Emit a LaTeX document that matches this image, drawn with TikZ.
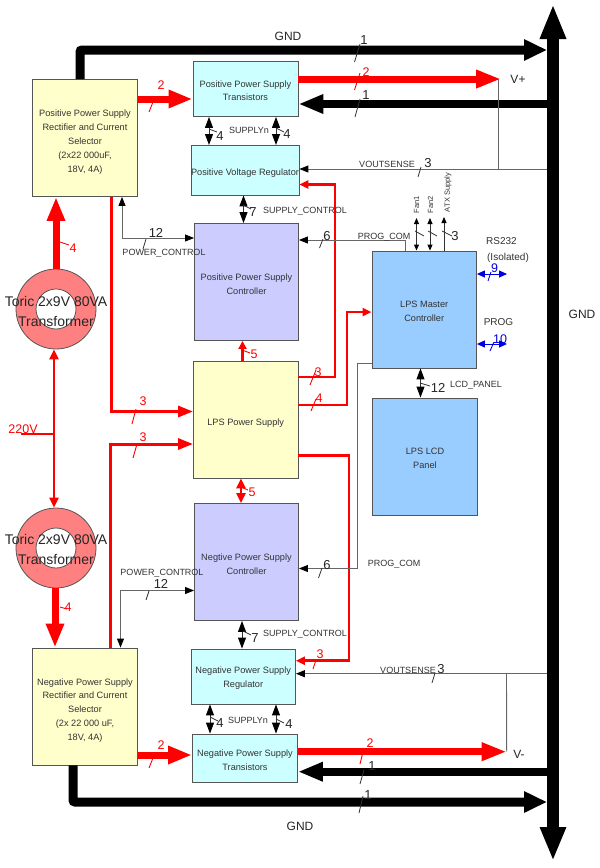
\documentclass[tikz,border=0pt]{standalone}
\usepackage{fontspec}
\setmainfont{Liberation Sans}
\usetikzlibrary{arrows.meta}
\definecolor{cyellow}{HTML}{FFFFCC}
\definecolor{ccyan}{HTML}{CCFFFF}
\definecolor{clav}{HTML}{CCCCFF}
\definecolor{cblue}{HTML}{99CCFF}
\definecolor{cpink}{HTML}{FF8080}
\definecolor{cred}{HTML}{FF0000}
\definecolor{cblu}{HTML}{0000DD}
\definecolor{cedge}{HTML}{555555}
\definecolor{ctxt}{HTML}{333333}
\definecolor{cthin}{HTML}{666666}
\newcommand\topgap[1]{\rule{0pt}{#1pt}}
\tikzset{
 x=1pt,y=-1pt,
 blockbox/.style={draw=cedge,line width=.9pt,inner sep=0pt,align=center,text=ctxt,
   font=\fontsize{9.2}{13.9}\selectfont},
 tlabel/.style={inner sep=0pt,text=ctxt,font=\fontsize{9}{10}\selectfont},
 num/.style={inner sep=0pt,text=black!85,font=\fontsize{13}{14}\selectfont},
 rnum/.style={inner sep=0pt,text=cred,font=\fontsize{12.5}{14}\selectfont},
 bnum/.style={inner sep=0pt,text=cblu,font=\fontsize{12.5}{14}\selectfont},
 biglabel/.style={inner sep=0pt,text=black!85,font=\fontsize{12}{14}\selectfont},
 torlabel/.style={inner sep=0pt,align=center,text=black!85,font=\fontsize{14}{20}\selectfont},
 fanlabel/.style={rotate=90,inner sep=0pt,text=ctxt,font=\fontsize{7.5}{8}\selectfont},
 tick/.style={draw=black!80,line width=.8pt},
 rtick/.style={draw=cred,line width=.9pt},
 btick/.style={draw=cblu,line width=.9pt},
 gndbus/.style={draw=black,line width=9pt,rounded corners=2pt,-{Triangle[length=23pt,width=20pt]}},
 gndback/.style={draw=black,line width=8pt,-{Triangle[length=25pt,width=18pt]}},
 redbus/.style={draw=cred,line width=7pt,-{Triangle[length=25pt,width=17pt]}},
 redup/.style={draw=cred,line width=7pt,-{Triangle[length=24pt,width=17pt]}},
 redline/.style={draw=cred,line width=3pt,-{Triangle[length=15pt,width=11pt]}},
 redmid/.style={draw=cred,line width=2.6pt,-{Triangle[length=9pt,width=8pt]}},
 redthin/.style={draw=cred,line width=2.5pt,-{Triangle[length=8pt,width=8pt]}},
 reddouble/.style={draw=cred,line width=2.5pt,{Triangle[length=10pt,width=9pt]}-{Triangle[length=10pt,width=9pt]}},
 thinarrow/.style={draw=cthin,line width=.9pt,-{Triangle[length=9pt,width=7pt,color=black]}},
 thinboth/.style={draw=cthin,line width=.9pt,{Triangle[length=9pt,width=7pt,color=black]}-{Triangle[length=9pt,width=7pt,color=black]}},
 thinplain/.style={draw=cthin,line width=.9pt},
 dblarrow/.style={draw=black!80,line width=1pt,{Triangle[length=11pt,width=8pt,color=black]}-{Triangle[length=11pt,width=8pt,color=black]}},
 fandbl/.style={draw=black!80,line width=.9pt,{Triangle[length=6pt,width=5pt,color=black]}-{Triangle[length=6pt,width=5pt,color=black]}},
 fanone/.style={draw=black!80,line width=.9pt,-{Triangle[length=6pt,width=5pt,color=black]}},
 bluedbl/.style={draw=cblu,line width=1pt,{Triangle[length=8pt,width=7pt]}-{Triangle[length=8pt,width=7pt]}},
 toroid/.style={circle,draw=cedge,line width=.8pt,fill=cpink,inner sep=0pt,minimum size=80pt},
 torhole/.style={circle,draw=cedge,line width=.8pt,fill=white,inner sep=0pt,minimum size=40pt},
}
\begin{document}
\begin{tikzpicture}
\useasboundingbox[fill=white] (0,0) rectangle (600,868);

% bus
\node[inner sep=0pt,minimum width=11.5pt,minimum height=788pt] (bus) at (553,433) {};
\draw[draw=black,line width=11.5pt,
  {Triangle[length=35pt,width=24pt]}-{Triangle[length=34pt,width=24pt]}] (553,4) -- (553,861);

% blocks
\node[blockbox,fill=cyellow,minimum width=105pt,minimum height=117pt] (posrect) at (85,138)
  {\topgap{14.6}Positive Power Supply\\Rectifier and Current\\Selector\\(2x22 000uF,\\18V, 4A)};
\node[blockbox,fill=ccyan,minimum width=105pt,minimum height=55.5pt] (postrans) at (245.5,88.7)
  {\topgap{10.6}Positive Power Supply\\Transistors};
\node[blockbox,fill=ccyan,minimum width=105pt,minimum height=49.5pt] (posreg) at (245,170.2)
  {\topgap{12}Positive Voltage Regulator};
\node[blockbox,fill=clav,minimum width=104pt,minimum height=117pt] (posctrl) at (246.5,282)
  {\topgap{10.6}Positive Power Supply\\Controller};
\node[blockbox,fill=cyellow,minimum width=104.5pt,minimum height=117pt] (lps) at (245.7,419.5)
  {\topgap{13}LPS Power Supply};
\node[blockbox,fill=clav,minimum width=104pt,minimum height=117pt] (negctrl) at (246.5,562)
  {\topgap{10.6}Negtive Power Supply\\Controller};
\node[blockbox,fill=ccyan,minimum width=104.5pt,minimum height=55pt] (negreg) at (243.2,676.5)
  {\topgap{10.6}Negative Power Supply\\Regulator};
\node[blockbox,fill=ccyan,minimum width=105pt,minimum height=48pt] (negtrans) at (245,758)
  {\topgap{10.6}Negative Power Supply\\Transistors};
\node[blockbox,fill=cyellow,minimum width=105pt,minimum height=117pt] (negrect) at (85,706.5)
  {\topgap{14.6}Negative Power Supply\\Rectifier and Current\\Selector\\(2x 22 000 uF,\\18V, 4A)};
\node[blockbox,fill=cblue,minimum width=104.5pt,minimum height=117pt] (master) at (424.2,309.5)
  {\topgap{10.6}LPS Master\\Controller};
\node[blockbox,fill=cblue,minimum width=105pt,minimum height=117pt] (lcd) at (425,456.5)
  {\topgap{10.6}LPS LCD\\Panel};
\node[toroid] (tor1) at (56,309) {};
\node[torhole] (tor1h) at (56,309) {};
\node[toroid] (tor2) at (56,548) {};
\node[torhole] (tor2h) at (56,548) {};

% GND connectors
\draw[gndbus] (posrect.north -| 80,0) -- (80,50) -- (bus.west |- 0,50);
\draw[gndbus] (negrect.south -| 73,0) -- (73,802) -- (bus.west |- 0,802);
\draw[gndback] (bus.west |- 0,104) -- (postrans.east |- 0,104);
\draw[gndback] (bus.west |- 0,771.7) -- (negtrans.east |- 0,771.7);

% big red
\draw[redbus] (postrans.east |- 0,79) -- (501,79) coordinate (vplus);
\draw[redbus] (negtrans.east |- 0,751.7) -- (506.7,751.7) coordinate (vminus);
\draw[redup] (posrect.east |- 0,99) -- (postrans.west |- 0,99);
\draw[redup] (negrect.east |- 0,755) -- (negtrans.west |- 0,755);
\draw[redup] (tor1.north -| 56,0) -- (posrect.south -| 56,0);
\draw[redup] (tor2.south -| 55,0) -- (negrect.north -| 55,0);

% mains
\draw[reddouble] (tor1.south -| 54,0) -- (tor2.north -| 54,0);
\coordinate (mainsin) at (21,434);
\draw[draw=cred,line width=1.8pt] (mainsin) -- (54,434);

% red power lines
\draw[redline] (posrect.south -| 111,0) -- (111,411.5) -- (lps.west |- 0,411.5);
\draw[redline] (negrect.north -| 110.5,0) -- (110.5,444) -- (lps.west |- 0,444);
\draw[redmid] (lps.east |- 0,377) -- (335,377) -- (335,184.5) -- (posreg.east |- 0,184.5);
\draw[redmid] (lps.east |- 0,405) -- (347,405) -- (347,312) -- (master.west |- 0,312);
\draw[redmid] (lps.east |- 0,455.5) -- (349,455.5) -- (349,660.7) -- (negreg.east |- 0,660.7);
\draw[redthin] (lps.north -| 242.5,0) -- (posctrl.south -| 242.5,0);
\draw[reddouble] (lps.south -| 241,0) -- (negctrl.north -| 241,0);

% thin vout sense
\draw[thinarrow] (bus.west |- 0,169) -- (posreg.east |- 0,169);
\draw[thinplain] (vplus) ++(-3,0) -- (498,169);
\draw[thinarrow] (bus.west |- 0,673.7) -- (negreg.east |- 0,673.7);
\draw[thinplain] (vminus) -- (506.5,673.7);

% prog com
\draw[thinarrow] (master.north -| 405,0) -- (405,240) -- (posctrl.east |- 0,240);
\draw[thinarrow] (master.west |- 0,363.5) -- (357.5,363.5) -- (357.5,568.5) -- (negctrl.east |- 0,568.5);

% power control
\draw[thinboth] (posrect.south -| 122,0) -- (122,238) -- (posctrl.west |- 0,238);
\draw[thinboth] (negrect.north -| 120.5,0) -- (120.5,590.5) -- (negctrl.west |- 0,590.5);

% double arrows
\draw[dblarrow] (postrans.south -| 209,0) -- (posreg.north -| 209,0);
\draw[dblarrow] (postrans.south -| 276,0) -- (posreg.north -| 276,0);
\draw[dblarrow] (posreg.south -| 243.5,0) -- (posctrl.north -| 243.5,0);
\draw[dblarrow] (negctrl.south -| 242,0) -- (negreg.north -| 242,0);
\draw[dblarrow] (negreg.south -| 210,0) -- (negtrans.north -| 210,0);
\draw[dblarrow] (negreg.south -| 276,0) -- (negtrans.north -| 276,0);
\draw[dblarrow] (master.south -| 420.5,0) -- (lcd.north -| 420.5,0);

% fans
\coordinate (fanone) at (416.5,218);
\coordinate (fantwo) at (430,218);
\coordinate (fanatx) at (444,217);
\draw[fandbl] (master.north -| 416.5,0) -- (fanone);
\draw[fandbl] (master.north -| 430,0) -- (fantwo);
\draw[fanone] (master.north -| 444,0) -- (fanatx);

% blue
\coordinate (rsend) at (507,274);
\coordinate (progend) at (507,344);
\draw[bluedbl] (master.east |- 0,274) -- (rsend);
\draw[bluedbl] (master.east |- 0,344) -- (progend);

% ticks
\draw[tick] (354.5,62) -- (360,44);
\draw[rtick] (354.5,90) -- (360,73);
\draw[tick] (355,117) -- (360,99);
\draw[tick] (418,177) -- (421,167);
\draw[tick] (319.5,248) -- (323,239);
\draw[tick] (318.5,578) -- (322,568);
\draw[tick] (143,249) -- (146,239);
\draw[tick] (146,600) -- (149,591);
\draw[tick] (209,129) -- (217,132);
\draw[tick] (276,128) -- (284,132);
\draw[tick] (243,205) -- (251,209);
\draw[tick] (243,631) -- (251,635);
\draw[tick] (210,717) -- (218,721);
\draw[tick] (276,719) -- (284,723);
\draw[tick] (420,383) -- (430,386);
\draw[tick] (415,231) -- (424,236);
\draw[tick] (428,231) -- (437,236);
\draw[tick] (442,231) -- (452,236);
\draw[tick] (360,784) -- (364,770);
\draw[rtick] (360,764) -- (364,748);
\draw[tick] (359,813) -- (363,796);
\draw[tick] (432,683) -- (435,673);
\draw[rtick] (149,112) -- (153,102);
\draw[rtick] (149,768) -- (153,758);
\draw[rtick] (60,242) -- (69,245);
\draw[rtick] (60,607) -- (67,609);
\draw[rtick] (132,424) -- (136,409);
\draw[rtick] (133,458) -- (137,444);
\draw[rtick] (242,350) -- (250,353);
\draw[rtick] (241,487) -- (248,490);
\draw[rtick] (310,385) -- (316,370);
\draw[rtick] (311,411) -- (316,399);
\draw[rtick] (313,669) -- (316,660);
\draw[btick] (488,281) -- (491,272);
\draw[btick] (490,351) -- (494,342);

% texts
\node[biglabel] (gndtop) at (288,36) {GND};
\node[biglabel] (gndbot) at (300,826) {GND};
\node[biglabel] (gndright) at (582,314) {GND};
\node[biglabel] (vp) at (518,79) {V+};
\node[biglabel] (vm) at (519,754) {V-};
\node[torlabel] (tor1t) at (56,311) {Toric 2x9V 80VA\\Transformer};
\node[torlabel] (tor2t) at (56,549.5) {Toric 2x9V 80VA\\Transformer};
\node[inner sep=0pt,text=cred,font=\fontsize{12.5}{14}\selectfont] (mains) at (23,429) {220V};

\node[num] (n1a) at (364,40) {1};
\node[rnum] (n2a) at (366,72) {2};
\node[num] (n1b) at (366,95) {1};
\node[tlabel] (vs1) at (387,164.5) {VOUTSENSE};
\node[num] (n3a) at (428,163.5) {3};
\node[tlabel] (pc1) at (384,237) {PROG\_COM};
\node[num] (n6a) at (327,236) {6};
\node[tlabel] (pc2) at (394,564.5) {PROG\_COM};
\node[num] (n6b) at (327,565) {6};
\node[tlabel] (sn1) at (249,130) {SUPPLYn};
\node[num] (n4a) at (220,136) {4};
\node[num] (n4b) at (287,134.5) {4};
\node[num] (n7a) at (253,212) {7};
\node[tlabel] (sc1) at (305,211) {SUPPLY\_CONTROL};
\node[num] (n7b) at (255,638) {7};
\node[tlabel] (sc2) at (305,634.5) {SUPPLY\_CONTROL};
\node[tlabel] (sn2) at (248,720) {SUPPLYn};
\node[num] (n4c) at (220,723) {4};
\node[num] (n4d) at (289,724) {4};
\node[num] (n12a) at (156,233) {12};
\node[tlabel] (pw1) at (164,253) {POWER\_CONTROL};
\node[num] (n12b) at (161,584) {12};
\node[tlabel] (pw2) at (162,573) {POWER\_CONTROL};
\node[num] (n12c) at (438,388) {12};
\node[tlabel] (lp) at (476,385) {LCD\_PANEL};
\node[num] (n3b) at (455,236) {3};
\node[fanlabel] (fan1) at (416.5,204.5) {Fan1};
\node[fanlabel] (fan2) at (430.5,204.5) {Fan2};
\node[fanlabel] (fan3) at (448,192.5) {ATX Supply};
\node[tlabel,font=\fontsize{10}{11}\selectfont] (rs) at (501.5,241) {RS232};
\node[tlabel,font=\fontsize{10}{11}\selectfont] (iso) at (508,258) {(Isolated)};
\node[bnum] (n9) at (494.5,268) {9};
\node[tlabel,font=\fontsize{10}{11}\selectfont] (pg) at (498.5,322) {PROG};
\node[bnum] (n10) at (500,339) {10};
\node[rnum] (r2a) at (161,85) {2};
\node[rnum] (r2b) at (161,745) {2};
\node[rnum] (r2c) at (370,743) {2};
\node[rnum] (r4a) at (73,248) {4};
\node[rnum] (r4b) at (68,607) {4};
\node[rnum] (r3a) at (143,401) {3};
\node[rnum] (r3b) at (143,437) {3};
\node[rnum] (r5a) at (254,354) {5};
\node[rnum] (r5b) at (252,492) {5};
\node[rnum] (r3c) at (318,372) {3};
\node[rnum] (r4c) at (319,398) {4};
\node[rnum] (r3d) at (320,654) {3};
\node[num] (n1c) at (372,766) {1};
\node[num] (n1d) at (368,795) {1};
\node[tlabel] (vs2) at (408,670) {VOUTSENSE};
\node[num] (n3c) at (441,669) {3};
\end{tikzpicture}
\end{document}
